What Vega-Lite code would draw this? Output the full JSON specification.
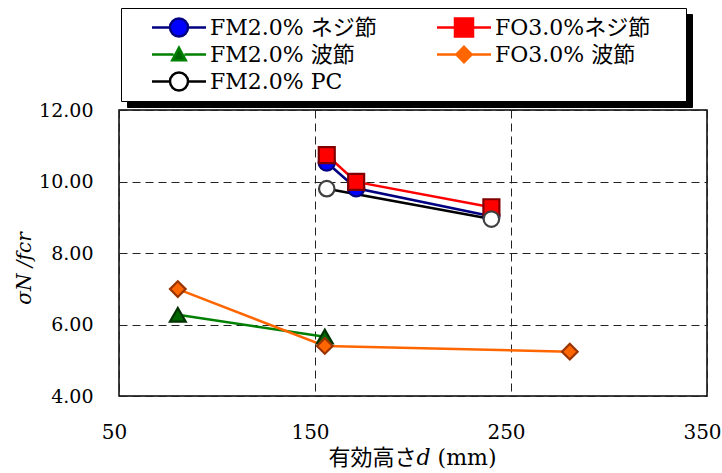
{
  "$schema": "https://vega.github.io/schema/vega-lite/v6.json",
  "width": 588,
  "height": 286,
  "autosize": {"type": "none"},
  "padding": {"left": 119, "top": 110, "right": 15, "bottom": 77},
  "background": "white",
  "data": {
    "values": [
      {"series": "FM2.0% ネジ節", "d": 156, "v": 10.53},
      {"series": "FM2.0% ネジ節", "d": 171, "v": 9.81},
      {"series": "FM2.0% ネジ節", "d": 240, "v": 9.03},
      {"series": "FO3.0%ネジ節", "d": 156, "v": 10.74},
      {"series": "FO3.0%ネジ節", "d": 171, "v": 9.99},
      {"series": "FO3.0%ネジ節", "d": 240, "v": 9.28},
      {"series": "FM2.0% 波節", "d": 80, "v": 6.27},
      {"series": "FM2.0% 波節", "d": 155, "v": 5.66},
      {"series": "FO3.0% 波節", "d": 80, "v": 6.99},
      {"series": "FO3.0% 波節", "d": 155, "v": 5.4},
      {"series": "FO3.0% 波節", "d": 280, "v": 5.24},
      {"series": "FM2.0% PC", "d": 156, "v": 9.8},
      {"series": "FM2.0% PC", "d": 240, "v": 8.95}
    ]
  },
  "encoding": {
    "x": {
      "field": "d",
      "type": "quantitative",
      "scale": {"domain": [50, 350], "nice": false, "zero": false},
      "axis": {
        "values": [50, 150, 250, 350],
        "title": "有効高さ𝑑 (mm)",
        "titleFont": "DejaVu Serif, Noto Sans CJK JP",
        "titleFontSize": 22,
        "titleFontWeight": "normal",
        "titleX": 293,
        "titleY": 61,
        "titleBaseline": "middle",
        "titleAlign": "center",
        "labelFont": "DejaVu Serif",
        "labelFontSize": 20,
        "labelOffset": -5,
        "labelPadding": 26
      }
    },
    "y": {
      "field": "v",
      "type": "quantitative",
      "scale": {"domain": [4, 12], "nice": false, "zero": false},
      "axis": {
        "values": [4, 6, 8, 10, 12],
        "format": ".2f",
        "title": "σN  /fcr",
        "titleFont": "DejaVu Serif",
        "titleFontStyle": "italic",
        "titleFontSize": 20,
        "titleFontWeight": "normal",
        "titleX": -95,
        "titleY": 158,
        "titleAngle": -90,
        "titleBaseline": "middle",
        "titleAlign": "center",
        "labelFont": "DejaVu Serif",
        "labelFontSize": 19,
        "labelPadding": 26
      }
    }
  },
  "layer": [
    {
      "mark": {"type": "line", "strokeWidth": 2.5},
      "encoding": {
        "color": {
          "field": "series",
          "type": "nominal",
          "scale": {
            "domain": ["FM2.0% ネジ節", "FO3.0%ネジ節", "FM2.0% 波節", "FO3.0% 波節", "FM2.0% PC"],
            "range": ["#000080", "#FF0000", "#008000", "#FF6600", "#000000"]
          },
          "legend": null
        }
      }
    },
    {
      "mark": {"type": "point", "filled": true, "opacity": 1, "strokeWidth": 2.2},
      "encoding": {
        "shape": {
          "field": "series",
          "type": "nominal",
          "scale": {
            "domain": ["FM2.0% ネジ節", "FO3.0%ネジ節", "FM2.0% 波節", "FO3.0% 波節", "FM2.0% PC"],
            "range": ["circle", "square", "triangle-up", "diamond", "circle"]
          },
          "legend": null
        },
        "fill": {
          "field": "series",
          "type": "nominal",
          "scale": {
            "domain": ["FM2.0% ネジ節", "FO3.0%ネジ節", "FM2.0% 波節", "FO3.0% 波節", "FM2.0% PC"],
            "range": ["#0000FF", "#FF0000", "#006600", "#FF6600", "#FFFFFF"]
          },
          "legend": null
        },
        "stroke": {
          "field": "series",
          "type": "nominal",
          "scale": {
            "domain": ["FM2.0% ネジ節", "FO3.0%ネジ節", "FM2.0% 波節", "FO3.0% 波節", "FM2.0% PC"],
            "range": ["#000080", "#800000", "#003300", "#993300", "#404040"]
          },
          "legend": null
        },
        "size": {
          "field": "series",
          "type": "nominal",
          "scale": {
            "domain": ["FM2.0% ネジ節", "FO3.0%ネジ節", "FM2.0% 波節", "FO3.0% 波節", "FM2.0% PC"],
            "range": [260, 240, 250, 150, 260]
          },
          "legend": null
        }
      }
    },
    {
      "transform": [{"filter": "datum.d > 1000"}],
      "mark": {"type": "point", "filled": true, "opacity": 1, "strokeWidth": 2.5, "size": 324},
      "encoding": {
        "shape": {
          "field": "series",
          "type": "nominal",
          "scale": {
            "domain": ["FM2.0% ネジ節", "FM2.0% 波節", "FM2.0% PC", "FO3.0%ネジ節", "FO3.0% 波節"],
            "range": [
              "M-3,0H-1M1,0H3M1,0A1,1,0,1,1,-1,0A1,1,0,1,1,1,0Z",
              "M-3,0H-0.6M0.6,0H3M0,-0.75L0.75,0.65H-0.75Z",
              "M-3,0H-1M1,0H3M1,0A1,1,0,1,1,-1,0A1,1,0,1,1,1,0Z",
              "M-3,0H-1M1,0H3M-1,-1H1V1H-1Z",
              "M-3,0H-0.85M0.85,0H3M0,-0.85L0.85,0L0,0.85L-0.85,0Z"
            ]
          },
          "legend": {
            "title": " ",
            "orient": "none",
            "legendX": 8,
            "legendY": -96,
            "fillColor": "#000000",
            "strokeColor": "#000000",
            "labelColor": "#000000"
          }
        },
        "fill": {
          "field": "series",
          "type": "nominal",
          "scale": {
            "domain": ["FM2.0% ネジ節", "FM2.0% 波節", "FM2.0% PC", "FO3.0%ネジ節", "FO3.0% 波節"],
            "range": ["#000000", "#000000", "#000000", "#000000", "#000000"]
          }
        },
        "stroke": {
          "field": "series",
          "type": "nominal",
          "scale": {
            "domain": ["FM2.0% ネジ節", "FM2.0% 波節", "FM2.0% PC", "FO3.0%ネジ節", "FO3.0% 波節"],
            "range": ["#000000", "#000000", "#000000", "#000000", "#000000"]
          }
        }
      }
    },
    {
      "transform": [{"filter": "datum.d > 1000"}],
      "mark": {"type": "point", "filled": true, "opacity": 1, "strokeWidth": 2.5, "size": 324},
      "encoding": {
        "shape": {
          "field": "series",
          "type": "nominal",
          "scale": {
            "domain": ["FM2.0% ネジ節", "FM2.0% 波節", "FM2.0% PC", "FO3.0%ネジ節", "FO3.0% 波節"],
            "range": [
              "M-3,0H-1M1,0H3M1,0A1,1,0,1,1,-1,0A1,1,0,1,1,1,0Z",
              "M-3,0H-0.6M0.6,0H3M0,-0.75L0.75,0.65H-0.75Z",
              "M-3,0H-1M1,0H3M1,0A1,1,0,1,1,-1,0A1,1,0,1,1,1,0Z",
              "M-3,0H-1M1,0H3M-1,-1H1V1H-1Z",
              "M-3,0H-0.85M0.85,0H3M0,-0.85L0.85,0L0,0.85L-0.85,0Z"
            ]
          },
          "legend": {
            "title": " ",
            "orient": "none",
            "legendX": 2,
            "legendY": -102
          }
        },
        "fill": {
          "field": "series",
          "type": "nominal",
          "scale": {
            "domain": ["FM2.0% ネジ節", "FM2.0% 波節", "FM2.0% PC", "FO3.0%ネジ節", "FO3.0% 波節"],
            "range": ["#0000FF", "#006600", "#FFFFFF", "#FF0000", "#FF6600"]
          }
        },
        "stroke": {
          "field": "series",
          "type": "nominal",
          "scale": {
            "domain": ["FM2.0% ネジ節", "FM2.0% 波節", "FM2.0% PC", "FO3.0%ネジ節", "FO3.0% 波節"],
            "range": ["#000080", "#008000", "#000000", "#FF0000", "#FF6600"]
          }
        }
      }
    }
  ],
  "resolve": {
    "scale": {"shape": "independent", "fill": "independent", "stroke": "independent", "size": "independent"}
  },
  "config": {
    "view": {"stroke": "#000000", "strokeWidth": 1.5},
    "axis": {
      "grid": true,
      "gridColor": "#222222",
      "gridDash": [8, 5],
      "gridWidth": 1,
      "domain": false,
      "ticks": false,
      "tickSize": 0,
      "labelFlush": false,
      "labelColor": "#000000",
      "titleColor": "#000000"
    },
    "legend": {
      "orient": "none",
      "columns": 2,
      "columnPadding": 37,
      "rowPadding": 4,
      "padding": 8,
      "clipHeight": 23,
      "fillColor": "#FFFFFF",
      "strokeColor": "#000000",
      "strokeWidth": 1,
      "labelFont": "DejaVu Serif, Noto Sans CJK JP",
      "labelFontSize": 22,
      "labelColor": "#000000",
      "labelLimit": 400,
      "symbolSize": 324,
      "symbolStrokeWidth": 2.5,
      "symbolOffset": 39,
      "labelOffset": 20,
      "gridAlign": "all",
      "titleOrient": "right",
      "titlePadding": 28,
      "titleFontSize": 4
    }
  }
}
